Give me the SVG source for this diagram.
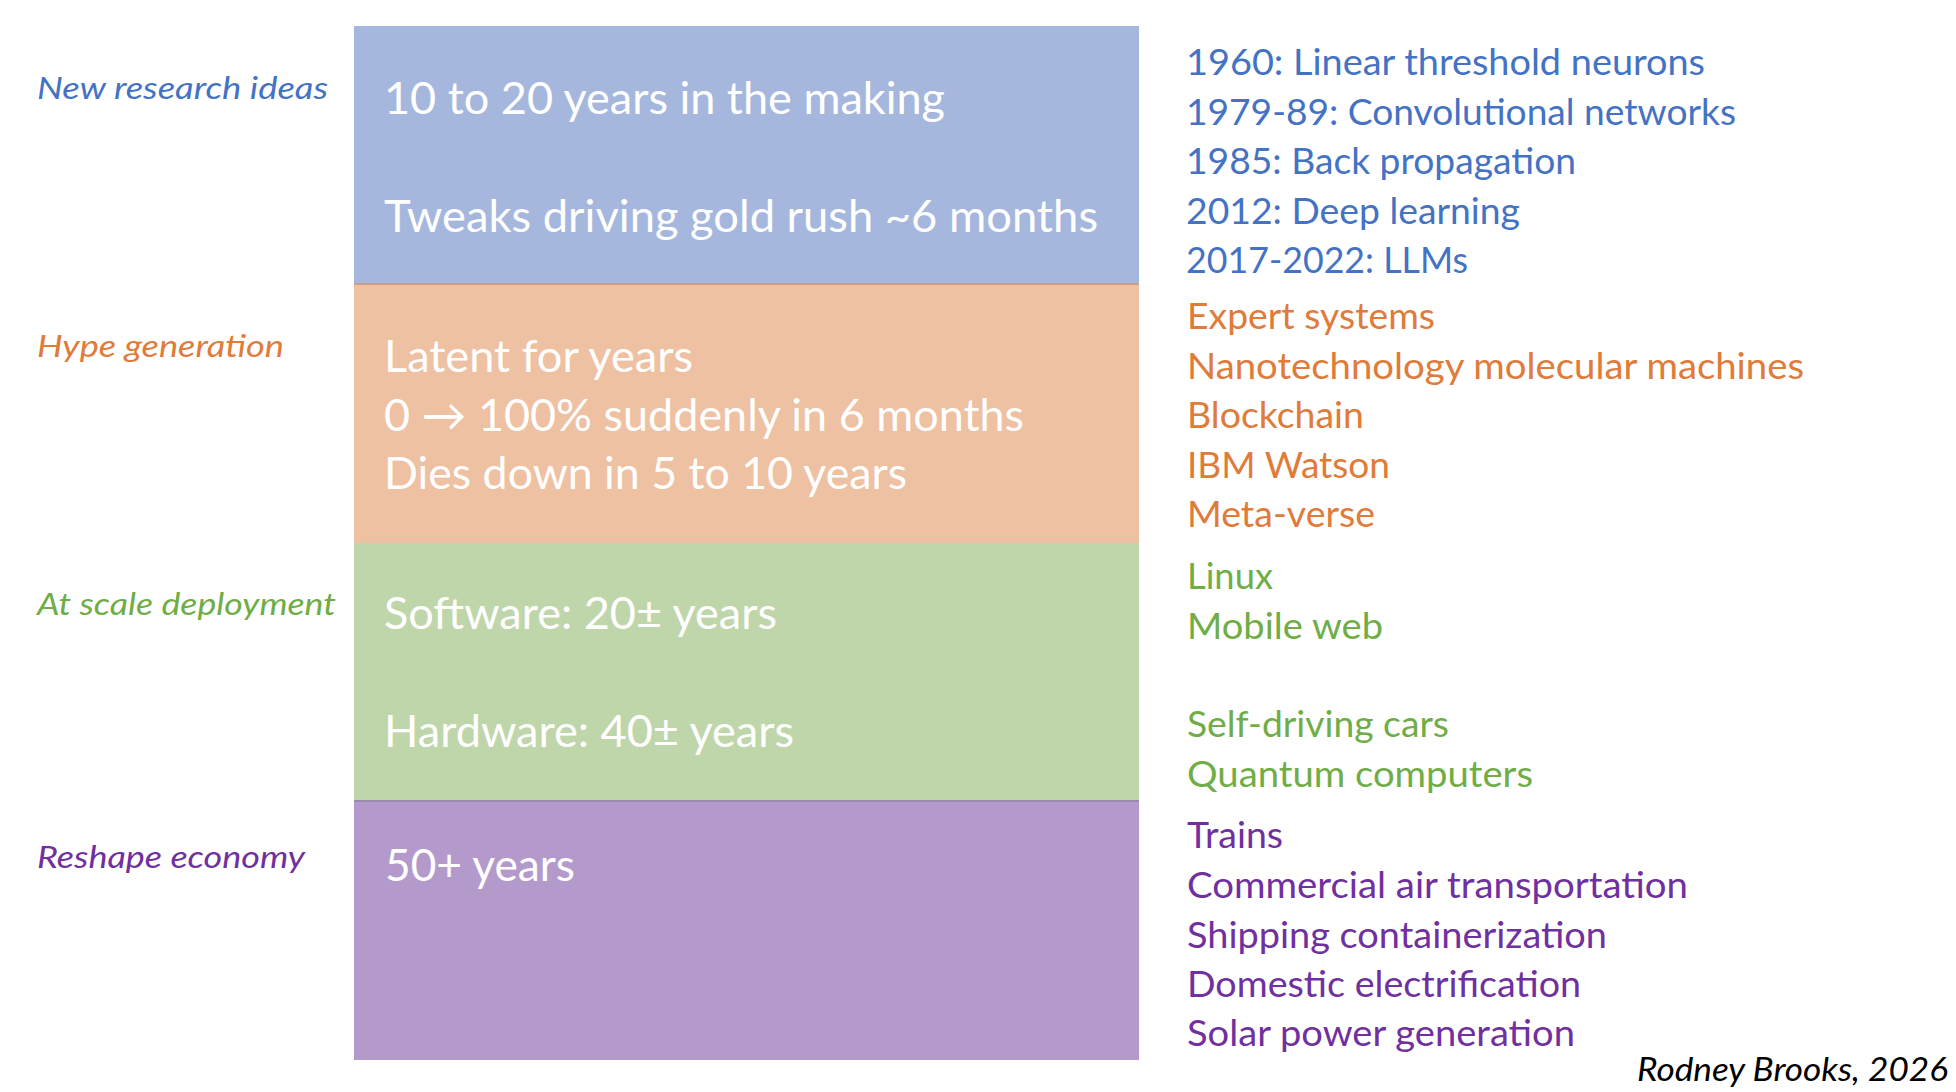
<svg xmlns="http://www.w3.org/2000/svg" width="1956" height="1092" viewBox="0 0 1956 1092">
<style>
text{font-family:Lato,"Open Sans","Liberation Sans",sans-serif}
.box{fill:#fff;font-size:44px}
.lab{font-style:italic;font-size:30px}
.item{font-size:36px}
.blue{fill:#4472C4}.orange{fill:#E07B39}.green{fill:#70AD47}.purple{fill:#7030A0}
</style>
<rect width="1956" height="1092" fill="#fff"/>
<g id="stage-research">
<rect x="354" y="26" width="785" height="258" fill="#A6B7DE"/>
<text class="box" x="384" y="114" textLength="561" lengthAdjust="spacingAndGlyphs">10 to 20 years in the making</text>
<text class="box" x="384" y="232" textLength="714" lengthAdjust="spacingAndGlyphs">Tweaks driving gold rush ~6 months</text>
</g>
<g id="stage-hype">
<rect x="354" y="284" width="785" height="259" fill="#EEC1A2"/>
<text class="box" x="384" y="372" textLength="309" lengthAdjust="spacingAndGlyphs">Latent for years</text>
<text class="box" x="384" y="431" textLength="640" lengthAdjust="spacingAndGlyphs">0 → 100% suddenly in 6 months</text>
<text class="box" x="384" y="489" textLength="523" lengthAdjust="spacingAndGlyphs">Dies down in 5 to 10 years</text>
</g>
<g id="stage-deploy">
<rect x="354" y="543" width="785" height="258" fill="#BFD6AB"/>
<text class="box" x="384" y="629" textLength="393" lengthAdjust="spacingAndGlyphs">Software: 20± years</text>
<text class="box" x="384" y="747" textLength="410" lengthAdjust="spacingAndGlyphs">Hardware: 40± years</text>
</g>
<g id="stage-economy">
<rect x="354" y="801" width="785" height="259" fill="#B39ACB"/>
<text class="box" x="385" y="881" textLength="190" lengthAdjust="spacingAndGlyphs">50+ years</text>
</g>
<g id="connectors">
<line x1="354" y1="284" x2="1139" y2="284" stroke="#C9A08E" stroke-width="2"/>
<line x1="354" y1="801" x2="1139" y2="801" stroke="#998AAE" stroke-width="2"/>
</g>
<g id="labels">
<text class="lab blue" x="37" y="99" textLength="291" lengthAdjust="spacingAndGlyphs">New research ideas</text>
<text class="lab orange" x="37" y="357" textLength="247" lengthAdjust="spacingAndGlyphs">Hype generation</text>
<text class="lab green" x="37" y="615" textLength="299" lengthAdjust="spacingAndGlyphs">At scale deployment</text>
<text class="lab purple" x="37" y="868" textLength="268" lengthAdjust="spacingAndGlyphs">Reshape economy</text>
</g>
<g id="examples-research">
<text class="item blue" x="1186" y="75" textLength="519" lengthAdjust="spacingAndGlyphs">1960: Linear threshold neurons</text>
<text class="item blue" x="1186" y="125" textLength="550" lengthAdjust="spacingAndGlyphs">1979-89: Convolutional networks</text>
<text class="item blue" x="1186" y="174" textLength="390" lengthAdjust="spacingAndGlyphs">1985: Back propagation</text>
<text class="item blue" x="1186" y="224" textLength="334" lengthAdjust="spacingAndGlyphs">2012: Deep learning</text>
<text class="item blue" x="1186" y="273" textLength="282" lengthAdjust="spacingAndGlyphs">2017-2022: LLMs</text>
</g>
<g id="examples-hype">
<text class="item orange" x="1187" y="329" textLength="248" lengthAdjust="spacingAndGlyphs">Expert systems</text>
<text class="item orange" x="1187" y="379" textLength="617" lengthAdjust="spacingAndGlyphs">Nanotechnology molecular machines</text>
<text class="item orange" x="1187" y="428" textLength="177" lengthAdjust="spacingAndGlyphs">Blockchain</text>
<text class="item orange" x="1187" y="478" textLength="203" lengthAdjust="spacingAndGlyphs">IBM Watson</text>
<text class="item orange" x="1187" y="527" textLength="188" lengthAdjust="spacingAndGlyphs">Meta-verse</text>
</g>
<g id="examples-deploy">
<text class="item green" x="1187" y="589" textLength="86" lengthAdjust="spacingAndGlyphs">Linux</text>
<text class="item green" x="1187" y="639" textLength="196" lengthAdjust="spacingAndGlyphs">Mobile web</text>
<text class="item green" x="1187" y="737" textLength="262" lengthAdjust="spacingAndGlyphs">Self-driving cars</text>
<text class="item green" x="1187" y="787" textLength="346" lengthAdjust="spacingAndGlyphs">Quantum computers</text>
</g>
<g id="examples-economy">
<text class="item purple" x="1187" y="848" textLength="96" lengthAdjust="spacingAndGlyphs">Trains</text>
<text class="item purple" x="1187" y="898" textLength="501" lengthAdjust="spacingAndGlyphs">Commercial air transportation</text>
<text class="item purple" x="1187" y="948" textLength="420" lengthAdjust="spacingAndGlyphs">Shipping containerization</text>
<text class="item purple" x="1187" y="997" textLength="394" lengthAdjust="spacingAndGlyphs">Domestic electrification</text>
<text class="item purple" x="1187" y="1046" textLength="388" lengthAdjust="spacingAndGlyphs">Solar power generation</text>
</g>
<text id="credit" x="1948" y="1081" text-anchor="end" font-style="italic" font-size="32" fill="#000" textLength="311" lengthAdjust="spacingAndGlyphs">Rodney Brooks, 2026</text>
</svg>
